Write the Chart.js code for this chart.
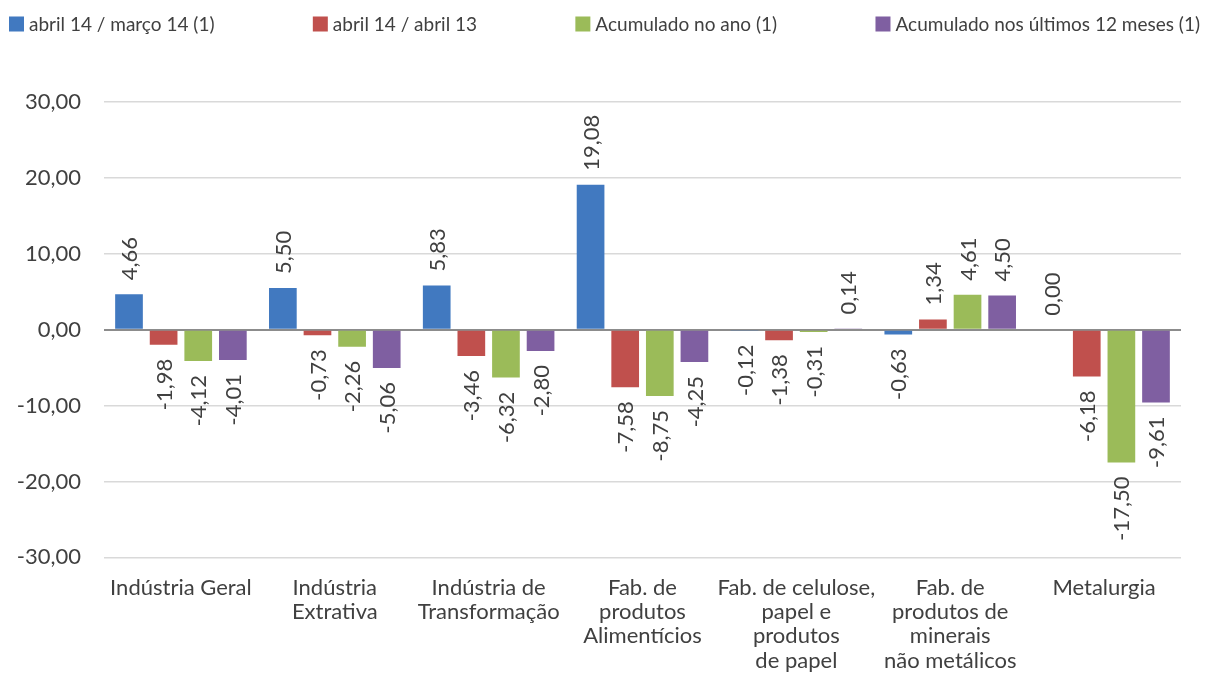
<!DOCTYPE html>
<html>
<head>
<meta charset="utf-8">
<script src="https://cdn.jsdelivr.net/npm/chart.js@4"></script>
<style>
  html, body { margin: 0; padding: 0; background: #fff; }
  #wrap { width: 1205px; height: 686px; }
</style>
</head>
<body>
<div id="wrap"><canvas id="chart" width="1205" height="686"></canvas></div>
<script>
// Data
const categories = [
  "Indústria Geral",
  ["Indústria", "Extrativa"],
  ["Indústria de", "Transformação"],
  ["Fab. de", "produtos", "Alimentícios"],
  ["Fab. de celulose,", "papel e", "produtos", "de papel"],
  ["Fab. de", "produtos de", "minerais", "não metálicos"],
  "Metalurgia",
];
const seriesNames = [
  "abril 14 / março 14 (1)",
  "abril 14 / abril 13",
  "Acumulado no ano (1)",
  "Acumulado nos últimos 12 meses (1)",
];
const abrilMarco = [4.66, 5.50, 5.83, 19.08, -0.12, -0.63, 0.00];
const abrilAbril = [-1.98, -0.73, -3.46, -7.58, -1.38, 1.34, -6.18];
const acumAno = [-4.12, -2.26, -6.32, -8.75, -0.31, 4.61, -17.50];
const acum12 = [-4.01, -5.06, -2.80, -4.25, 0.14, 4.50, -9.61];
const yTicks = [-30, -20, -10, 0, 10, 20, 30];

const colors = ["#4179C0", "#C0504D", "#9BBB59", "#7F5FA1"];
const FONT = "Lato, 'Open Sans', sans-serif";
const TEXT = "#404040";

const fmt = (v) => v.toFixed(2).replace(".", ",");

// Rotated data labels
const barLabels = {
  id: "barLabels",
  afterDatasetsDraw(chart) {
    const ctx = chart.ctx;
    ctx.save();
    ctx.font = `22px ${FONT}`;
    ctx.fillStyle = TEXT;
    ctx.textBaseline = "middle";
    chart.data.datasets.forEach((ds, i) => {
      chart.getDatasetMeta(i).data.forEach((bar, j) => {
        const v = ds.data[j];
        const neg = v < 0;
        ctx.save();
        ctx.translate(bar.x, neg ? bar.y + 14 : bar.y - 14);
        ctx.rotate(-Math.PI / 2);
        ctx.textAlign = neg ? "right" : "left";
        ctx.fillText(fmt(v), 0, 1);
        ctx.restore();
      });
    });
    ctx.restore();
  },
};

// Legend spread across the full width, like the original
const topLegend = {
  id: "topLegend",
  afterDraw(chart) {
    const ctx = chart.ctx;
    const box = 15, gapBox = 5, left = 9, right = 1200, cy = 24;
    ctx.save();
    ctx.font = `19px ${FONT}`;
    const widths = chart.data.datasets.map((ds) => ctx.measureText(ds.label).width);
    const used = widths.reduce((a, w) => a + w + box + gapBox, 0);
    const gap = (right - left - used) / (widths.length - 1);
    let x = left;
    ctx.textBaseline = "middle";
    ctx.textAlign = "left";
    chart.data.datasets.forEach((ds, i) => {
      ctx.fillStyle = ds.backgroundColor;
      ctx.fillRect(x, cy - box / 2, box, box);
      ctx.fillStyle = TEXT;
      ctx.fillText(ds.label, x + box + gapBox, cy + 1);
      x += box + gapBox + widths[i] + gap;
    });
    ctx.restore();
  },
};

const datasets = [abrilMarco, abrilAbril, acumAno, acum12].map((d, i) => ({
  label: seriesNames[i],
  data: d,
  backgroundColor: colors[i],
  categoryPercentage: 0.9,
  barPercentage: 0.8,
}));

new Chart(document.getElementById("chart"), {
  type: "bar",
  data: { labels: categories, datasets },
  plugins: [barLabels, topLegend],
  options: {
    responsive: false,
    animation: false,
    layout: { padding: { left: 4, right: 24, top: 102, bottom: -5 } },
    plugins: {
      tooltip: { enabled: false },
      legend: { display: false },
    },
    scales: {
      x: {
        grid: { display: false, drawTicks: false },
        border: { display: false },
        ticks: {
          color: TEXT,
          padding: 18,
          font: { family: FONT, size: 22, lineHeight: 1.11 },
          maxRotation: 0,
          autoSkip: false,
        },
      },
      y: {
        min: -30,
        max: 30,
        afterBuildTicks: (axis) => { axis.ticks = yTicks.map((v) => ({ value: v })); },
        afterFit: (axis) => { axis.width = 100; },
        grid: {
          color: (c) => (c.tick && c.tick.value === 0 ? "#8c8c8c" : "#d9d9d9"),
          lineWidth: (c) => (c.tick && c.tick.value === 0 ? 2 : 1.5),
          drawTicks: false,
        },
        border: { display: false },
        ticks: {
          color: TEXT,
          padding: 23,
          font: { family: FONT, size: 22 },
          callback: (v) => fmt(v),
        },
      },
    },
  },
});
</script>
</body>
</html>
